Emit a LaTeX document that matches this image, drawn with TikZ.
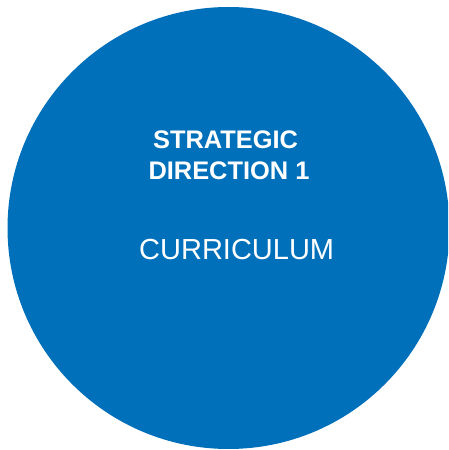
\documentclass[tikz,border=0pt]{standalone}
\usepackage{fontspec}
\setmainfont{Liberation Sans}
\definecolor{dirblue}{RGB}{0,112,186}
\begin{document}
\begin{tikzpicture}[x=1pt,y=1pt,
  heading/.style={text=white,font=\fontsize{25.4}{31}\selectfont\bfseries,inner sep=0pt},
  topic/.style={text=white,font=\fontsize{29}{34}\selectfont,inner sep=0pt}]
  \useasboundingbox (0,0) rectangle (448,450);
  \clip (0,0) rectangle (448,450);
  \fill[dirblue] (228.5,222) circle[radius=221];
  \node[heading,anchor=base] (line1) at (225.5,301.7) {STRATEGIC};
  \node[heading,anchor=base] (line2) at (229,270.7) {DIRECTION 1};
  \node[topic,anchor=base] (topic) at (236.7,190) {CURRICULUM};
\end{tikzpicture}
\end{document}
